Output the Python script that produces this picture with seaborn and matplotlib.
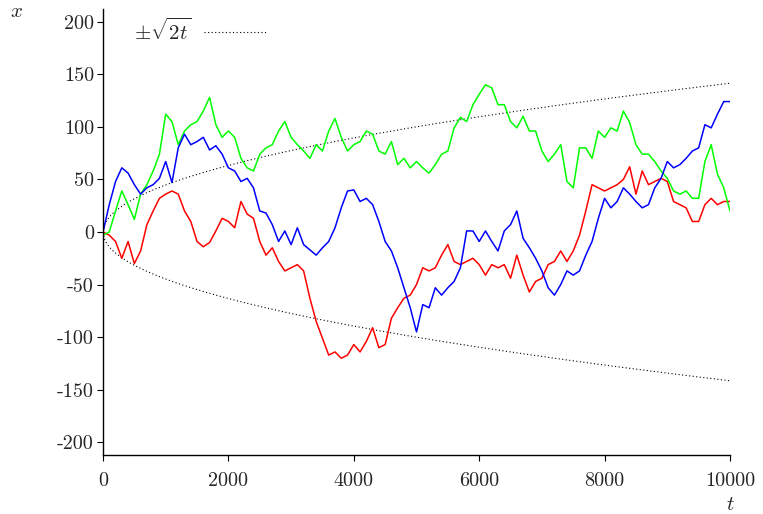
import numpy as np
import pandas as pd
import matplotlib
matplotlib.use("Agg")
import matplotlib.pyplot as plt
import seaborn as sns

t_amostras = np.arange(0, 10001, 100)

caminho_azul = [0, 26, 48, 61, 56, 45, 36, 42, 45, 51, 67, 47, 80, 93, 83, 86, 90, 78, 82, 74,
                61, 58, 48, 51, 42, 20, 18, 7, -9, 1, -12, 4, -12, -17, -22, -15, -9, 4, 23, 39,
                40, 29, 32, 26, 10, -9, -18, -34, -53, -72, -95, -69, -72, -53, -60, -53, -47, -34, 1, 1,
                -9, 1, -9, -18, 1, 7, 20, -6, -15, -25, -37, -53, -60, -50, -37, -41, -37, -22, -9, 13,
                32, 23, 29, 42, 36, 29, 23, 26, 42, 51, 67, 61, 64, 70, 77, 80, 102, 99, 112, 124,
                124]

caminho_verde = [-3, 0, 20, 39, 26, 12, 36, 45, 58, 74, 112, 105, 83, 96, 102, 105, 115, 128, 102, 90,
                 96, 90, 70, 61, 58, 74, 80, 83, 96, 105, 90, 83, 77, 70, 83, 77, 96, 108, 90, 77,
                 83, 86, 96, 93, 77, 74, 86, 64, 70, 61, 67, 61, 56, 64, 74, 77, 99, 109, 105, 121,
                 131, 140, 137, 121, 121, 105, 99, 110, 96, 96, 77, 67, 74, 83, 48, 42, 80, 80, 70, 96,
                 90, 99, 96, 115, 104, 83, 74, 74, 67, 58, 51, 39, 36, 39, 32, 32, 67, 83, 55, 42,
                 20]

caminho_vermelho = [0, -3, -9, -25, -9, -30, -18, 7, 20, 32, 36, 39, 36, 20, 10, -9, -14, -10, 1, 13,
                    10, 4, 29, 17, 13, -9, -22, -15, -28, -37, -34, -31, -37, -63, -85, -101, -117, -114, -120, -117,
                    -107, -114, -104, -91, -110, -107, -82, -72, -63, -60, -50, -34, -37, -34, -22, -12, -28, -31, -28, -25,
                    -31, -41, -31, -34, -31, -44, -22, -41, -57, -47, -44, -31, -28, -18, -28, -18, -3, 20, 45, 42,
                    39, 42, 45, 50, 62, 36, 58, 45, 48, 51, 48, 29, 26, 23, 10, 10, 26, 32, 26, 29,
                    29]

nomes = ["vermelho", "verde", "azul"]
cores = {"vermelho": "#ff0000", "verde": "#00ff00", "azul": "#0000ff"}

y_ticks = [-200, -150, -100, -50, 0, 50, 100, 150, 200]
x_ticks = [0, 2000, 4000, 6000, 8000, 10000]

sns.set_style("white")
plt.rcParams["font.family"] = ["cmr10", "DejaVu Serif"]
plt.rcParams["mathtext.fontset"] = "cm"
plt.rcParams["axes.unicode_minus"] = False
plt.rcParams["axes.formatter.use_mathtext"] = False

df = pd.DataFrame({
    "t": np.concatenate([t_amostras] * 3),
    "x": np.concatenate([caminho_vermelho, caminho_verde, caminho_azul]),
    "caminho": np.repeat(nomes, len(t_amostras)),
})

fig = plt.figure(figsize=(7.63, 5.14), dpi=100)
ax = fig.add_axes([103 / 763, 59 / 514, 627 / 763, 446 / 514])

# envelope +-sqrt(2t)
t_fino = np.linspace(0, 10000, 400)
env = np.sqrt(2 * t_fino)
linha_env, = ax.plot(t_fino, env, color="black", lw=0.8, linestyle=(0, (1, 2.2)),
                     label=r"$\pm\sqrt{2t}$")
ax.plot(t_fino, -env, color="black", lw=0.8, linestyle=(0, (1, 2.2)))

sns.lineplot(data=df, x="t", y="x", hue="caminho", hue_order=nomes, palette=cores,
             linewidth=1.1, legend=False, ax=ax)

ax.set_xlim(0, 10000)
ax.set_ylim(-212, 212)
ax.set_xticks(x_ticks)
ax.set_xticklabels([str(v) for v in x_ticks])
ax.set_yticks(y_ticks)
ax.set_yticklabels([str(v) for v in y_ticks])
ax.tick_params(bottom=True, left=True, direction="out", length=4, width=0.8,
               labelsize=14.5, pad=2.5, color="black")
ax.tick_params(axis="x", pad=8)
ax.set_xlabel("")
ax.set_ylabel("")
sns.despine(ax=ax)
for s in ["left", "bottom"]:
    ax.spines[s].set_color("black")
    ax.spines[s].set_linewidth(1.0)

fig.text(16 / 763, 1 - 12 / 514, "$x$", fontsize=15, ha="center", va="center")
fig.text(730 / 763, 1 - 505 / 514, "$t$", fontsize=15, ha="center", va="center")

ax.legend(handles=[linha_env], loc="upper left", bbox_to_anchor=(0.036, 1.0),
          frameon=False, markerfirst=False, fontsize=15, handlelength=3.0,
          handletextpad=0.6, borderaxespad=0.0)

fig.savefig("out.png", dpi=100)
